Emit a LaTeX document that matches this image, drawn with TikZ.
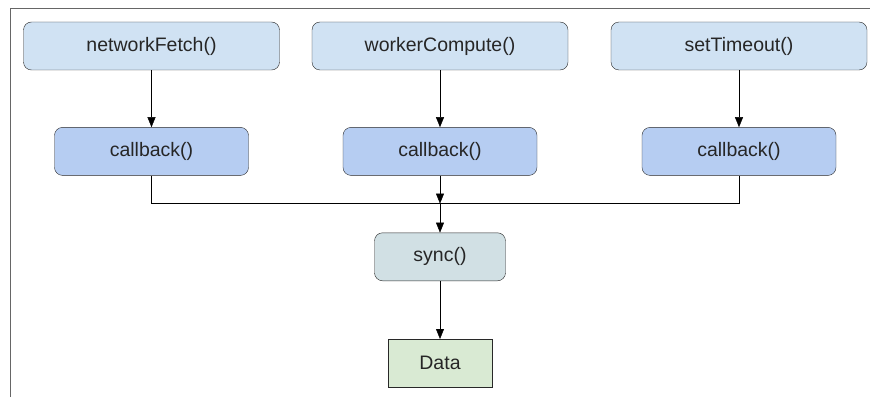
\documentclass[tikz,border=0pt]{standalone}
\usepackage{fontspec}
\setmainfont{Liberation Sans}
\usepackage{tikz}
\usetikzlibrary{arrows.meta,positioning,calc}

\definecolor{fetchfill}{RGB}{208,226,243}
\definecolor{callfill}{RGB}{182,205,242}
\definecolor{syncfill}{RGB}{209,224,228}
\definecolor{datafill}{RGB}{217,234,211}
\definecolor{edgegray}{RGB}{40,40,40}

\begin{document}
\begin{tikzpicture}[x=1pt, y=1pt, >={Triangle[width=8pt,length=10pt]},
  every node/.style={font=\fontsize{19.5}{21}\selectfont, text=black!85},
  fetchbox/.style={draw=edgegray, rounded corners=8pt, fill=fetchfill, minimum width=256pt, minimum height=48pt},
  cbbox/.style={draw=edgegray, rounded corners=8pt, fill=callfill, minimum width=194pt, minimum height=48pt},
  syncbox/.style={draw=edgegray, rounded corners=8pt, fill=syncfill, minimum width=131pt, minimum height=48pt},
  databox/.style={draw=edgegray, fill=datafill, minimum width=104pt, minimum height=48pt},
  node distance=57pt]
\useasboundingbox (0,0) rectangle (870,397);
% frame
\draw[gray!80!black] (10,0) -- (10,389) -- (870,389);
\node[fetchbox] (net) at (151.5,351) {networkFetch()};
\node[fetchbox] (work) at (440,351) {workerCompute()};
\node[fetchbox] (timer) at (739,351) {setTimeout()};
\node[cbbox, below=of net] (cbnet) {callback()};
\node[cbbox, below=of work] (cbwork) {callback()};
\node[cbbox, below=of timer] (cbtimer) {callback()};
\coordinate (join) at ($(cbwork.south)+(0,-28)$);
\node[syncbox, below=57pt of cbwork] (sync) {sync()};
\node[databox, below=58pt of sync] (data) {Data};
\draw[->] (net) -- (cbnet);
\draw[->] (work) -- (cbwork);
\draw[->] (timer) -- (cbtimer);
\draw (cbnet.south) |- (join) -| (cbtimer.south);
\draw[->] (cbwork) -- (join);
\draw[->] (join) -- (sync);
\draw[->] (sync) -- (data);
\end{tikzpicture}
\end{document}
